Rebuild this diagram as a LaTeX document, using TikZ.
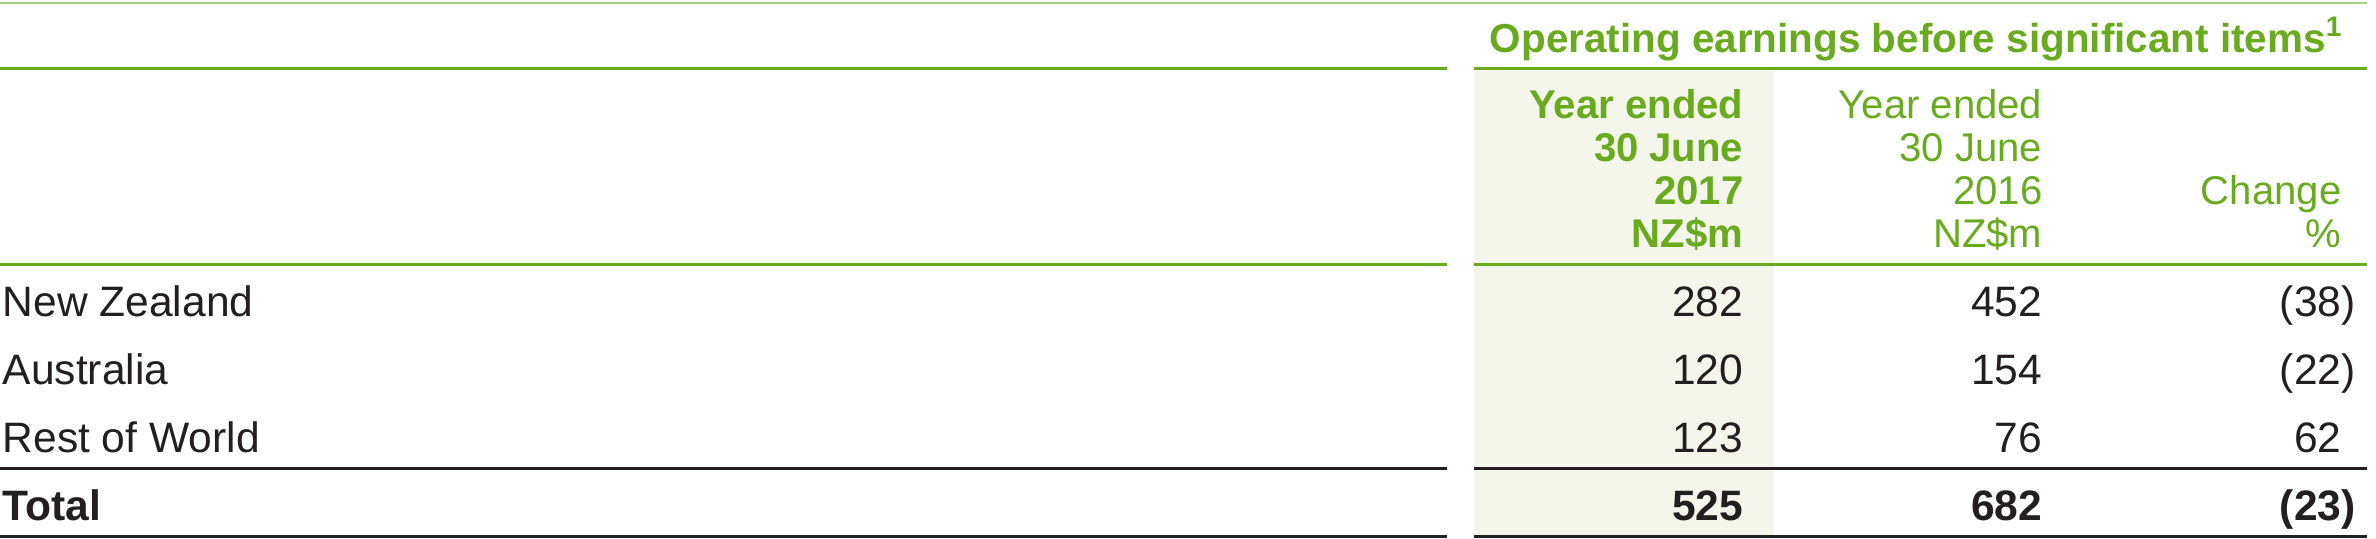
\documentclass[tikz,border=0pt]{standalone}
\usepackage{fontspec}
\setmainfont{Liberation Sans}
\definecolor{fgreen}{HTML}{6AAA1E}
\definecolor{fpale}{HTML}{A8CF80}
\definecolor{fshade}{HTML}{F4F6EC}
\definecolor{fdark}{HTML}{231F20}
\begin{document}
\begin{tikzpicture}[x=0.01cm,y=-0.01cm,
  rowname/.style={anchor=base west,inner sep=0,font=\fontsize{12.1}{14}\selectfont,text=fdark},
  cell/.style={anchor=base east,inner sep=0,font=\fontsize{12.1}{14}\selectfont,text=fdark},
  colhead/.style={anchor=base east,inner sep=0,font=\fontsize{11.4}{13}\selectfont,text=fgreen},
  greenrule/.style={draw=fgreen,line width=0.03cm},
  darkrule/.style={draw=fdark,line width=0.03cm}]
\useasboundingbox (0,0) rectangle (2376,538);
\fill[fshade] (1474,69) rectangle (1774,538);
\draw[draw=fpale,line width=0.02cm] (0,3)--(2367,3);
\node[colhead,font=\fontsize{11.5}{13}\selectfont\bfseries] (title) at (2344,52)
  {Operating earnings before significant items\textsuperscript{1}};
\draw[greenrule] (0,68)--(1447,68);
\draw[greenrule] (1474,68)--(2367,68);
% current year
\node[colhead,font=\fontsize{11.4}{13}\selectfont\bfseries] (cya) at (1744,118) {Year ended};
\node[colhead,font=\fontsize{11.4}{13}\selectfont\bfseries] (cyb) at (1744,161) {30 June};
\node[colhead,font=\fontsize{11.4}{13}\selectfont\bfseries] (cyc) at (1744,204) {2017};
\node[colhead,font=\fontsize{11.4}{13}\selectfont\bfseries] (cyd) at (1744,247) {NZ\$m};
% prior year
\node[colhead] (pya) at (2043,118) {Year ended};
\node[colhead] (pyb) at (2043,161) {30 June};
\node[colhead] (pyc) at (2043,204) {2016};
\node[colhead] (pyd) at (2043,247) {NZ\$m};
\node[colhead] (chga) at (2342,204) {Change};
\node[colhead] (chgb) at (2342,247) {\%};
\draw[greenrule] (0,264)--(1447,264);
\draw[greenrule] (1474,264)--(2367,264);
% rows
\node[rowname] (nz) at (2,316) {New Zealand};
\node[cell] (nzcy) at (1744,316) {282};
\node[cell] (nzpy) at (2043,316) {452};
\node[cell] (nzchg) at (2342,316) {(38\rlap{)}};
\node[rowname] (au) at (2,384) {Australia};
\node[cell] (aucy) at (1744,384) {120};
\node[cell] (aupy) at (2043,384) {154};
\node[cell] (auchg) at (2342,384) {(22\rlap{)}};
\node[rowname] (row) at (2,452) {Rest of World};
\node[cell] (rowcy) at (1744,452) {123};
\node[cell] (rowpy) at (2043,452) {76};
\node[cell] (rowchg) at (2342,452) {62};
\draw[darkrule] (0,468.5)--(1447,468.5);
\draw[darkrule] (1474,468.5)--(2367,468.5);
\node[rowname,font=\fontsize{12.1}{14}\selectfont\bfseries] (tot) at (2,520) {Total};
\node[cell,font=\fontsize{12.1}{14}\selectfont\bfseries] (totcy) at (1744,520) {525};
\node[cell,font=\fontsize{12.1}{14}\selectfont\bfseries] (totpy) at (2043,520) {682};
\node[cell,font=\fontsize{12.1}{14}\selectfont\bfseries] (totchg) at (2342,520) {(23\rlap{)}};
\draw[darkrule] (0,536.5)--(1447,536.5);
\draw[darkrule] (1474,536.5)--(2367,536.5);
\end{tikzpicture}
\end{document}
